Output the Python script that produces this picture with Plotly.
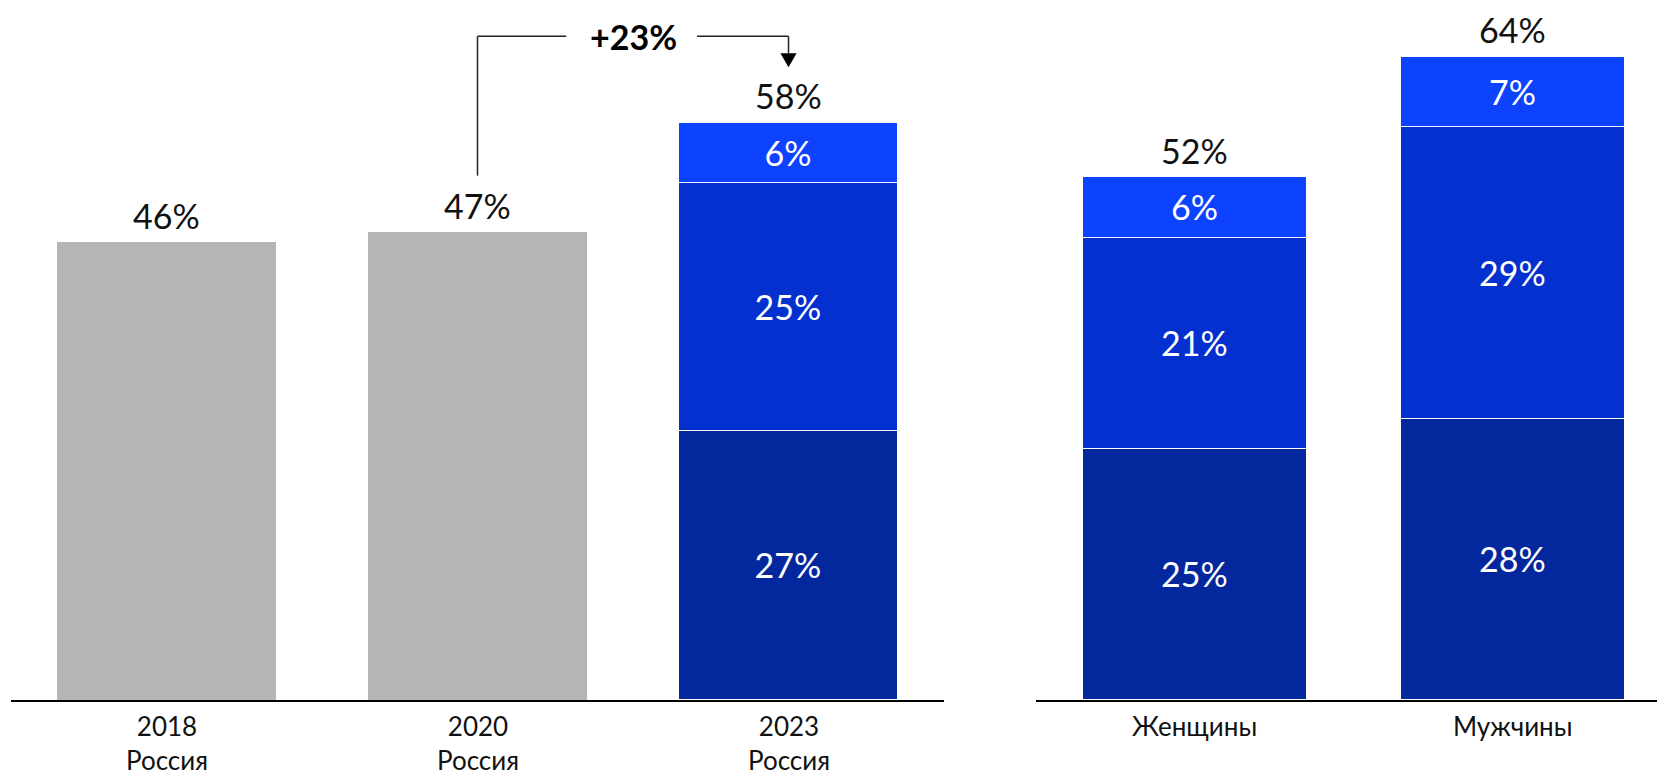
import plotly.graph_objects as go

# Left panel: Russia by year
years = ["2018", "2020", "2023"]
region = "Россия"
year_totals = [46, 47, 58]
# 2023 is broken down into three components (bottom -> top)
seg_bottom_2023 = 27
seg_middle_2023 = 25
seg_top_2023 = 6

# Right panel: 2023 by gender
genders = ["Женщины", "Мужчины"]
gender_bottom = [25, 28]
gender_middle = [21, 29]
gender_top = [6, 7]
gender_totals = [52, 64]

growth_label = "+23%"

GREY = "#b5b5b5"
C_BOTTOM = "#03279c"
C_MIDDLE = "#0430d0"
C_TOP = "#0d42ff"
FONT = "Lato, 'Noto Sans', sans-serif"
VAL_SIZE = 34
CAT_SIZE = 26
BAR_W = 0.707

W, H = 1657, 777
PLOT_H = 700

fig = go.Figure()

# grey bars for earlier years
fig.add_trace(go.Bar(
    x=years[:2], y=year_totals[:2], width=BAR_W,
    marker=dict(color=GREY, line=dict(width=0)),
    xaxis="x", yaxis="y", showlegend=False, hoverinfo="skip",
))

# stacked 2023 bar
for val, col in [(seg_bottom_2023, C_BOTTOM), (seg_middle_2023, C_MIDDLE), (seg_top_2023, C_TOP)]:
    fig.add_trace(go.Bar(
        x=[years[2]], y=[val], width=BAR_W,
        marker=dict(color=col, line=dict(color="white", width=1.2)),
        text=[f"{val}%"], textposition="inside", insidetextanchor="middle",
        textfont=dict(color="white", size=VAL_SIZE, family=FONT),
        xaxis="x", yaxis="y", showlegend=False, hoverinfo="skip",
    ))

# stacked gender bars
for vals, col in [(gender_bottom, C_BOTTOM), (gender_middle, C_MIDDLE), (gender_top, C_TOP)]:
    fig.add_trace(go.Bar(
        x=genders, y=vals, width=BAR_W,
        marker=dict(color=col, line=dict(color="white", width=1.2)),
        text=[f"{v}%" for v in vals], textposition="inside", insidetextanchor="middle",
        textfont=dict(color="white", size=VAL_SIZE, family=FONT),
        xaxis="x2", yaxis="y2", showlegend=False, hoverinfo="skip",
    ))

annotations = []
# totals above each bar (category index positions on the year axis)
for i, tot in enumerate(year_totals):
    annotations.append(dict(x=i, y=tot, xref="x", yref="y", text=f"{tot}%",
                            showarrow=False, yanchor="middle", yshift=27,
                            font=dict(size=VAL_SIZE, color="#111", family=FONT)))
for i, tot in enumerate(gender_totals):
    annotations.append(dict(x=i, y=tot, xref="x2", yref="y2", text=f"{tot}%",
                            showarrow=False, yanchor="middle", yshift=27,
                            font=dict(size=VAL_SIZE, color="#111", family=FONT)))

# category labels under the axes (two lines on the left panel)
cat_font = dict(size=CAT_SIZE, color="#111", family=FONT)
for i, cat in enumerate(years):
    annotations.append(dict(x=i, y=0, xref="x", yref="y", text=f"{cat}<br>{region}",
                            showarrow=False, align="center",
                            yanchor="top", yshift=-8, font=cat_font))
for i, cat in enumerate(genders):
    annotations.append(dict(x=i, y=0, xref="x2", yref="y2", text=cat, showarrow=False,
                            yanchor="top", yshift=-8, font=cat_font))

# growth bracket between 2020 and 2023
bracket_y = 66.7
start_y = year_totals[1] + 5.7
end_y = year_totals[2] + 5.6
head_len = 1.4
annotations.append(dict(x=1.5, y=bracket_y, xref="x", yref="y", text=f"<b>{growth_label}</b>",
                        showarrow=False, yanchor="middle",
                        font=dict(size=34, color="#000", family=FONT)))

line_style = dict(color="#222", width=1.5)
shapes = [
    dict(type="line", xref="x", yref="y", x0=1, x1=1, y0=start_y, y1=bracket_y, line=line_style),
    dict(type="line", xref="x", yref="y", x0=1, x1=1.285, y0=bracket_y, y1=bracket_y, line=line_style),
    dict(type="line", xref="x", yref="y", x0=1.706, x1=2, y0=bracket_y, y1=bracket_y, line=line_style),
    dict(type="line", xref="x", yref="y", x0=2, x1=2, y0=bracket_y, y1=end_y + head_len, line=line_style),
    dict(type="path", xref="x", yref="y",
         path=f"M 1.974,{end_y + head_len} L 2.026,{end_y + head_len} L 2,{end_y} Z",
         fillcolor="#000", line=dict(width=0)),
]

fig.update_layout(
    width=W, height=H,
    margin=dict(l=0, r=0, t=0, b=H - PLOT_H),
    paper_bgcolor="white", plot_bgcolor="white",
    barmode="stack", bargap=0,
    font=dict(family=FONT, color="#111"),
    xaxis=dict(domain=[11 / W, 944 / W], range=[-0.5, 2.5], showline=True,
               linecolor="#000", linewidth=2, ticks="", showgrid=False,
               showticklabels=False, type="category", automargin=False, fixedrange=True),
    xaxis2=dict(domain=[1036 / W, 1], range=[-0.5, 1.453], showline=True,
                linecolor="#000", linewidth=2, ticks="", showgrid=False,
                showticklabels=False, type="category", automargin=False,
                anchor="y2", fixedrange=True),
    yaxis=dict(range=[0, PLOT_H / 9.95], visible=False, showgrid=False, zeroline=False),
    yaxis2=dict(range=[0, PLOT_H / 10.05], visible=False, showgrid=False, zeroline=False,
                anchor="x2"),
    annotations=annotations,
    shapes=shapes,
)

fig.write_html("out.html", config={"displayModeBar": False})
